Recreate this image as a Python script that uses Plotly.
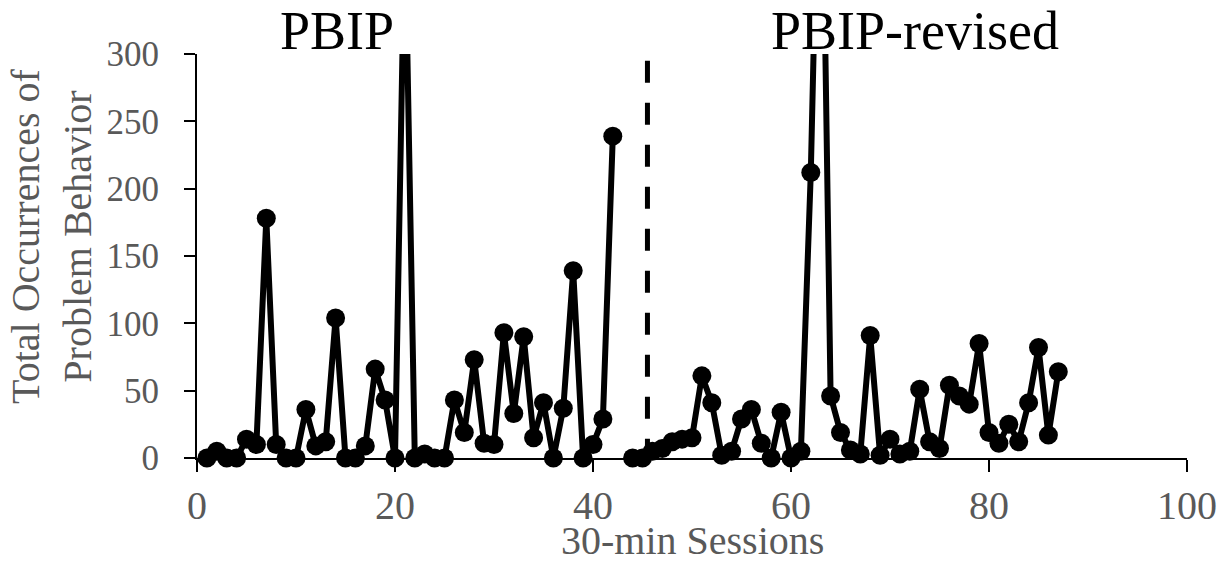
import plotly.graph_objects as go

# Phase 1: PBIP (sessions 1-42)
sessions_pbip = list(range(1, 43))
values_pbip = [0, 5, 0, 0, 14, 10, 178, 10, 0, 0,
               36, 9, 12, 104, 0, 0, 9, 66, 43, 0,
               400, 0, 3, 0, 0, 43, 19, 73, 11, 10,
               93, 33, 90, 15, 41, 0, 37, 139, 0, 10,
               29, 239]

# Phase 2: PBIP-revised (sessions 44-87)
sessions_rev = list(range(44, 88))
values_rev = [0, 0, 5, 7, 12, 14, 15, 61, 41, 2,
              5, 29, 36, 11, 0, 34, 0, 5, 212, 530,
              46, 19, 6, 3, 91, 2, 14, 3, 5, 51,
              12, 7, 54, 46, 40, 85, 19, 11, 25, 12,
              41, 82, 17, 64]

phase_change_x = 45.5
phase_labels = ["PBIP", "PBIP-revised"]
phase_label_x = [14.1, 72.5]

x_ticks = [0, 20, 40, 60, 80, 100]
y_ticks = [0, 50, 100, 150, 200, 250, 300]

FONT = "Liberation Serif, Times New Roman, serif"
GRAY = "#595959"

fig = go.Figure()
for xs, ys in [(sessions_pbip, values_pbip), (sessions_rev, values_rev)]:
    fig.add_trace(go.Scatter(
        x=xs, y=ys, mode="lines+markers",
        line=dict(color="black", width=6),
        marker=dict(color="black", size=19),
        cliponaxis=False, showlegend=False,
    ))

fig.add_shape(type="line", xref="x", yref="y",
              x0=phase_change_x, x1=phase_change_x, y0=295, y1=0,
              line=dict(color="black", width=5, dash="22px,20px"),
              layer="below")

for txt, xv in zip(phase_labels, phase_label_x):
    fig.add_annotation(text=txt, x=xv, xref="x", y=1.057, yref="paper",
                       xanchor="center", yanchor="middle", showarrow=False,
                       font=dict(family=FONT, size=54, color="black"))

fig.add_annotation(text="Total Occurrences of<br>Problem Behavior",
                   x=-0.1475, xref="paper", y=0.5495, yref="paper",
                   xanchor="center", yanchor="middle", textangle=-90,
                   showarrow=False,
                   font=dict(family=FONT, size=40, color=GRAY))
fig.add_annotation(text="30-min Sessions",
                   x=0.5, xref="paper", y=-0.2054, yref="paper",
                   xanchor="center", yanchor="middle", showarrow=False,
                   font=dict(family=FONT, size=40, color=GRAY))

fig.update_xaxes(range=[0, 100], tickvals=x_ticks, showgrid=False, zeroline=False,
                 automargin=False,
                 showline=True, linecolor="black", linewidth=2,
                 ticks="outside", ticklen=12, tickwidth=2, tickcolor="black",
                 ticklabelstandoff=-1,
                 tickfont=dict(family=FONT, size=40, color=GRAY))
fig.update_yaxes(range=[0, 300], tickvals=y_ticks, showgrid=False, zeroline=False,
                 automargin=False,
                 showline=True, linecolor="black", linewidth=2,
                 ticks="outside", ticklen=11, tickwidth=2, tickcolor="black",
                 ticklabelstandoff=18,
                 tickfont=dict(family=FONT, size=35, color=GRAY))

fig.update_layout(width=1222, height=563,
                  margin=dict(l=197, r=35, t=54, b=105),
                  paper_bgcolor="white", plot_bgcolor="white")

fig.write_html("out.html", config={"displayModeBar": False},
               post_script="document.body.style.margin='0';document.body.style.overflow='hidden';")
